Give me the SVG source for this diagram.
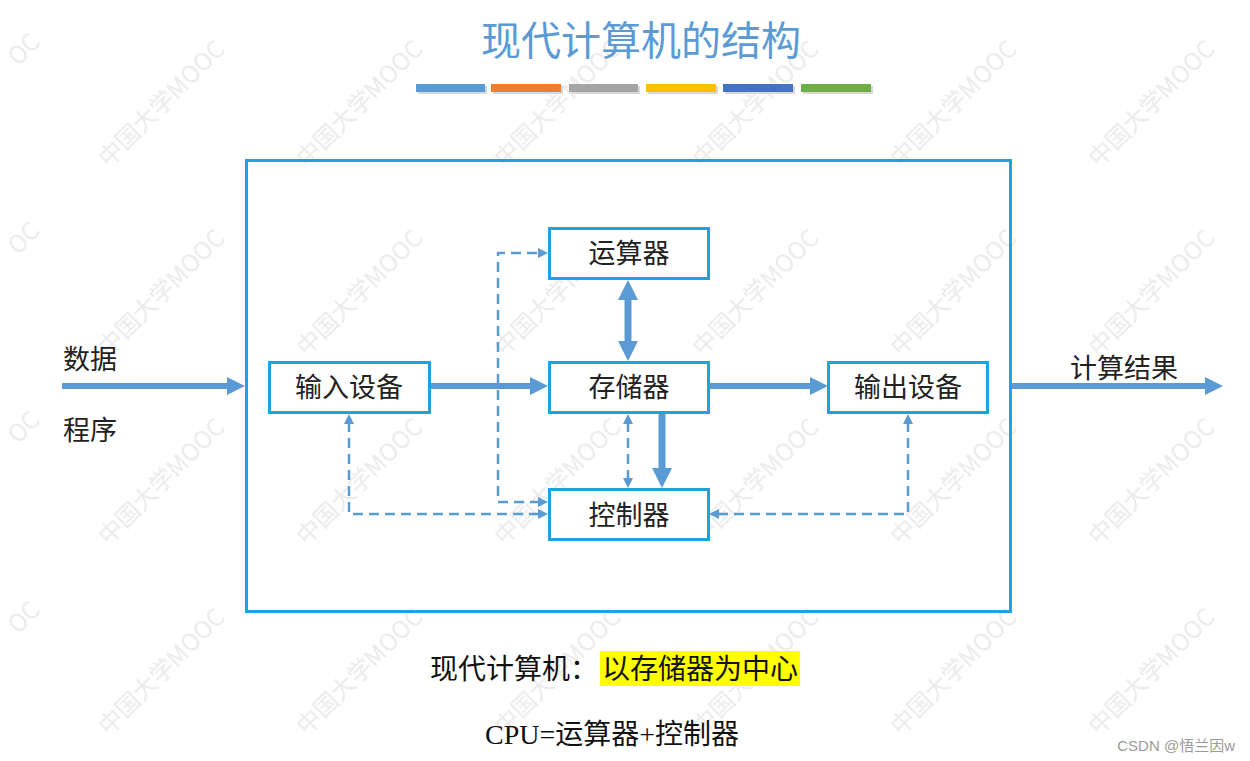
<svg xmlns="http://www.w3.org/2000/svg" width="1250" height="761" viewBox="0 0 1250 761">
<style>
.wm{font-family:"Noto Sans CJK SC","Noto Sans",sans-serif;font-size:24px;fill:#ececec}
.box{fill:#fff;stroke:#1fa3e0;stroke-width:3}
.lbl{font-family:"Noto Sans CJK SC","Noto Sans",sans-serif;font-size:27px;fill:#222}
.node-t{text-anchor:middle}
.solid{fill:none;stroke:#5b9bd5;stroke-width:6}
.solidv{fill:none;stroke:#5b9bd5;stroke-width:7}
.dash{fill:none;stroke:#5b9bd5;stroke-width:2.5;stroke-dasharray:10 6}
.btxt{font-family:"Liberation Serif","Noto Sans CJK SC",serif;font-size:28px;fill:#111}
</style>
<defs>
<marker id="ah" markerUnits="userSpaceOnUse" markerWidth="18" markerHeight="18" refX="2" refY="9" orient="auto-start-reverse"><path d="M0,0 L18,9 L0,18 z" fill="#5b9bd5"/></marker>
<marker id="ahb" markerUnits="userSpaceOnUse" markerWidth="20" markerHeight="20" refX="2" refY="10" orient="auto-start-reverse"><path d="M0,0 L20,10 L0,20 z" fill="#5b9bd5"/></marker>
<marker id="ahd" markerUnits="userSpaceOnUse" markerWidth="10" markerHeight="10" refX="2" refY="5" orient="auto-start-reverse"><path d="M0,0 L10,5 L0,10 z" fill="#5b9bd5"/></marker>
</defs>
<rect width="1250" height="761" fill="#fff"/>
<g id="watermark">
<text class="wm" transform="translate(34,36) rotate(-45)" text-anchor="end" dominant-baseline="central">OC</text>
<text class="wm" transform="translate(160,102) rotate(-45)" text-anchor="middle" dominant-baseline="central">中国大学MOOC</text>
<text class="wm" transform="translate(358,102) rotate(-45)" text-anchor="middle" dominant-baseline="central">中国大学MOOC</text>
<text class="wm" transform="translate(556,102) rotate(-45)" text-anchor="middle" dominant-baseline="central">中国大学MOOC</text>
<text class="wm" transform="translate(754,102) rotate(-45)" text-anchor="middle" dominant-baseline="central">中国大学MOOC</text>
<text class="wm" transform="translate(952,102) rotate(-45)" text-anchor="middle" dominant-baseline="central">中国大学MOOC</text>
<text class="wm" transform="translate(1150,102) rotate(-45)" text-anchor="middle" dominant-baseline="central">中国大学MOOC</text>
<text class="wm" transform="translate(34,225) rotate(-45)" text-anchor="end" dominant-baseline="central">OC</text>
<text class="wm" transform="translate(160,291) rotate(-45)" text-anchor="middle" dominant-baseline="central">中国大学MOOC</text>
<text class="wm" transform="translate(358,291) rotate(-45)" text-anchor="middle" dominant-baseline="central">中国大学MOOC</text>
<text class="wm" transform="translate(556,291) rotate(-45)" text-anchor="middle" dominant-baseline="central">中国大学MOOC</text>
<text class="wm" transform="translate(754,291) rotate(-45)" text-anchor="middle" dominant-baseline="central">中国大学MOOC</text>
<text class="wm" transform="translate(952,291) rotate(-45)" text-anchor="middle" dominant-baseline="central">中国大学MOOC</text>
<text class="wm" transform="translate(1150,291) rotate(-45)" text-anchor="middle" dominant-baseline="central">中国大学MOOC</text>
<text class="wm" transform="translate(34,414) rotate(-45)" text-anchor="end" dominant-baseline="central">OC</text>
<text class="wm" transform="translate(160,480) rotate(-45)" text-anchor="middle" dominant-baseline="central">中国大学MOOC</text>
<text class="wm" transform="translate(358,480) rotate(-45)" text-anchor="middle" dominant-baseline="central">中国大学MOOC</text>
<text class="wm" transform="translate(556,480) rotate(-45)" text-anchor="middle" dominant-baseline="central">中国大学MOOC</text>
<text class="wm" transform="translate(754,480) rotate(-45)" text-anchor="middle" dominant-baseline="central">中国大学MOOC</text>
<text class="wm" transform="translate(952,480) rotate(-45)" text-anchor="middle" dominant-baseline="central">中国大学MOOC</text>
<text class="wm" transform="translate(1150,480) rotate(-45)" text-anchor="middle" dominant-baseline="central">中国大学MOOC</text>
<text class="wm" transform="translate(34,604) rotate(-45)" text-anchor="end" dominant-baseline="central">OC</text>
<text class="wm" transform="translate(160,670) rotate(-45)" text-anchor="middle" dominant-baseline="central">中国大学MOOC</text>
<text class="wm" transform="translate(358,670) rotate(-45)" text-anchor="middle" dominant-baseline="central">中国大学MOOC</text>
<text class="wm" transform="translate(556,670) rotate(-45)" text-anchor="middle" dominant-baseline="central">中国大学MOOC</text>
<text class="wm" transform="translate(754,670) rotate(-45)" text-anchor="middle" dominant-baseline="central">中国大学MOOC</text>
<text class="wm" transform="translate(952,670) rotate(-45)" text-anchor="middle" dominant-baseline="central">中国大学MOOC</text>
<text class="wm" transform="translate(1150,670) rotate(-45)" text-anchor="middle" dominant-baseline="central">中国大学MOOC</text>
</g>
<g id="title">
<text x="641" y="55" text-anchor="middle" font-family="Noto Sans CJK SC, Noto Sans, sans-serif" font-size="40" fill="#5b9bd5">现代计算机的结构</text>
<g fill="#d8d8d8">
<rect x="418" y="86" width="69" height="8"/><rect x="493" y="86" width="70" height="8"/><rect x="571" y="86" width="69" height="8"/><rect x="648" y="86" width="70" height="8"/><rect x="725" y="86" width="70" height="8"/><rect x="803" y="86" width="70" height="8"/>
</g>
<rect x="416" y="84" width="69" height="8" fill="#5b9bd5"/>
<rect x="491" y="84" width="70" height="8" fill="#ed7d31"/>
<rect x="569" y="84" width="69" height="8" fill="#a5a5a5"/>
<rect x="646" y="84" width="70" height="8" fill="#ffc000"/>
<rect x="723" y="84" width="70" height="8" fill="#4472c4"/>
<rect x="801" y="84" width="70" height="8" fill="#70ad47"/>
</g>
<g id="computer">
<rect x="246.5" y="160.5" width="764" height="451" fill="none" stroke="#1fa3e0" stroke-width="3"/>
</g>
<g id="connectors">
<path class="solid" d="M62,386 H229" marker-end="url(#ah)"/>
<path class="solid" d="M431,386 H532" marker-end="url(#ah)"/>
<path class="solid" d="M709,386 H812" marker-end="url(#ah)"/>
<path class="solid" d="M1012,386 H1207" marker-end="url(#ah)"/>
<path class="solidv" d="M628,298 V343" marker-start="url(#ahb)" marker-end="url(#ahb)"/>
<path class="solidv" d="M662,414 V470" marker-end="url(#ahb)"/>
<path class="dash" d="M540,502 H498 V253 H540" marker-start="url(#ahd)" marker-end="url(#ahd)"/>
<path class="dash" d="M349,422 V514 H540" marker-start="url(#ahd)" marker-end="url(#ahd)"/>
<path class="dash" d="M908,422 V514 H717" marker-start="url(#ahd)" marker-end="url(#ahd)"/>
<path class="dash" d="M628,422 V480" marker-start="url(#ahd)" marker-end="url(#ahd)"/>
</g>
<g id="alu">
<rect class="box" x="549.5" y="228.5" width="159" height="50"/>
<text class="lbl node-t" x="629" y="263">运算器</text>
</g>
<g id="input">
<rect class="box" x="269.5" y="362.5" width="160" height="50"/>
<text class="lbl node-t" x="349" y="397">输入设备</text>
</g>
<g id="memory">
<rect class="box" x="549.5" y="362.5" width="159" height="50"/>
<text class="lbl node-t" x="629" y="397">存储器</text>
</g>
<g id="output">
<rect class="box" x="828.5" y="362.5" width="159" height="50"/>
<text class="lbl node-t" x="908" y="397">输出设备</text>
</g>
<g id="control">
<rect class="box" x="549.5" y="489.5" width="159" height="50"/>
<text class="lbl node-t" x="629" y="525">控制器</text>
</g>
<g id="labels">
<text class="lbl" x="63" y="369">数据</text>
<text class="lbl" x="63" y="440">程序</text>
<text class="lbl" x="1070" y="378">计算结果</text>
</g>
<g id="notes">
<rect x="600" y="651" width="200" height="35" fill="#ffff00"/>
<text class="btxt" x="430" y="679">现代计算机：<tspan x="602">以存储器为中心</tspan></text>
<text class="btxt" x="485" y="744">CPU=运算器+控制器</text>
</g>
<text x="1235" y="751" text-anchor="end" font-family="Liberation Sans, Noto Sans CJK SC, sans-serif" font-size="15" fill="#9a9a9a">CSDN @悟兰因w</text>
</svg>
